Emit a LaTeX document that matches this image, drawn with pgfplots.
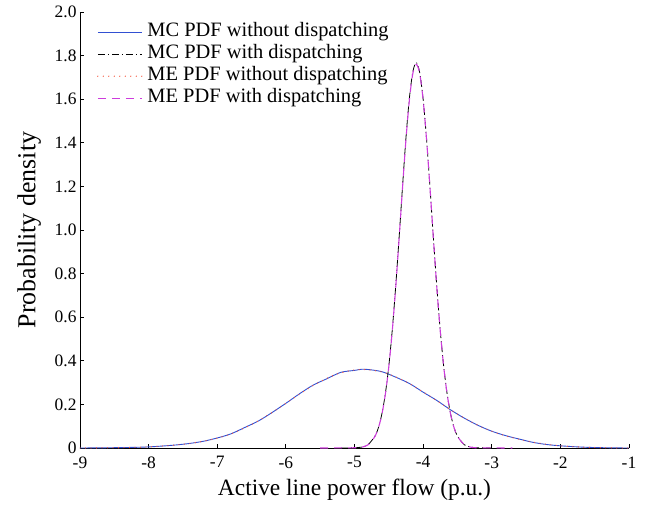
\documentclass[border=0pt]{standalone}
\usepackage{pgfplots}
\pgfplotsset{compat=1.18}
\usepackage{fontspec}
\setmainfont{Liberation Serif}
\definecolor{mcblue}{RGB}{50,80,210}
\definecolor{mered}{RGB}{245,85,60}
\definecolor{memag}{RGB}{205,60,220}
\begin{document}
\begin{tikzpicture}
\useasboundingbox (-80bp,-57bp) rectangle (568bp,448bp);
\begin{axis}[
  scale only axis, width=549bp, height=436bp,
  xmin=-9, xmax=-1, ymin=0, ymax=2,
  axis x line*=bottom, axis y line*=left,
  axis line style={black, line width=0.8bp},
  tick align=inside, major tick length=4bp,
  tick style={black, line width=0.8bp},
  xtick={-9,-8,-7,-6,-5,-4,-3,-2,-1},
  xticklabels={-9,-8,-7,-6,-5,-4,-3,-2,-1},
  ytick={0,0.2,0.4,0.6,0.8,1.0,1.2,1.4,1.6,1.8,2.0},
  yticklabels={0,0.2,0.4,0.6,0.8,1.0,1.2,1.4,1.6,1.8,2.0},
  tick label style={font=\fontsize{17.5}{17.5}\selectfont},
  xticklabel style={yshift=-5bp},
  xlabel style={font=\fontsize{23.5}{23.5}\selectfont, yshift=-4bp},
  ylabel style={font=\fontsize{26}{26}\selectfont, yshift=7bp},
  xlabel={Active line power flow (p.u.)},
  ylabel={Probability density},
  legend cell align=left,
  legend style={draw=none, fill=none, font=\fontsize{20.5}{22}\selectfont,
    at={(axis description cs:0,1)}, anchor=north west, xshift=14bp, yshift=-7bp,
    nodes={inner xsep=2bp, inner ysep=1bp, text height=14.5bp, text depth=5.5bp},
    /tikz/every odd column/.append style={column sep=3bp}},
  legend image code/.code={\draw[#1] (0bp,0bp) -- (44bp,0bp);},
]
\addplot[mcblue, line width=0.9bp, smooth] table {
-9.0 0.000
-8.6 0.001
-8.2 0.003
-8.0 0.005
-7.8 0.009
-7.6 0.014
-7.4 0.021
-7.2 0.031
-7.0 0.046
-6.8 0.065
-6.6 0.094
-6.4 0.124
-6.2 0.163
-6.0 0.205
-5.8 0.249
-5.6 0.289
-5.4 0.318
-5.2 0.347
-5.0 0.356
-4.9 0.361
-4.8 0.360
-4.6 0.350
-4.4 0.325
-4.2 0.296
-4.0 0.256
-3.8 0.218
-3.6 0.175
-3.4 0.137
-3.2 0.104
-3.0 0.077
-2.8 0.057
-2.6 0.041
-2.4 0.026
-2.2 0.016
-2.0 0.010
-1.8 0.006
-1.6 0.003
-1.4 0.0015
-1.2 0.0005
-1.0 0.000
};
\addlegendentry{MC PDF without dispatching}
\addplot[black, line width=0.8bp, smooth, dash pattern=on 7bp off 3bp on 1bp off 3bp] table {
-5.2 0.000
-5.0 0.001
-4.9 0.004
-4.8 0.016
-4.7 0.056
-4.65 0.095
-4.6 0.158
-4.55 0.250
-4.5 0.376
-4.45 0.540
-4.4 0.740
-4.35 0.965
-4.3 1.200
-4.25 1.423
-4.2 1.605
-4.15 1.725
-4.1 1.768
-4.05 1.722
-4.0 1.600
-3.95 1.418
-3.9 1.196
-3.85 0.962
-3.8 0.738
-3.75 0.538
-3.7 0.374
-3.65 0.248
-3.6 0.157
-3.55 0.094
-3.5 0.055
-3.4 0.015
-3.3 0.004
-3.2 0.001
-3.0 0.000
};
\addlegendentry{MC PDF with dispatching}
\addplot[mered, line width=1.3bp, line cap=round, smooth, dash pattern=on 0bp off 5.5bp] table {
-9.0 0.000
-8.6 0.001
-8.2 0.003
-8.0 0.005
-7.8 0.009
-7.6 0.014
-7.4 0.021
-7.2 0.031
-7.0 0.045
-6.8 0.065
-6.6 0.092
-6.4 0.125
-6.2 0.163
-6.0 0.205
-5.8 0.247
-5.6 0.287
-5.4 0.320
-5.2 0.345
-5.0 0.358
-4.9 0.360
-4.8 0.359
-4.6 0.349
-4.4 0.326
-4.2 0.295
-4.0 0.257
-3.8 0.217
-3.6 0.176
-3.4 0.137
-3.2 0.104
-3.0 0.077
-2.8 0.056
-2.6 0.040
-2.4 0.027
-2.2 0.017
-2.0 0.010
-1.8 0.006
-1.6 0.003
-1.4 0.0015
-1.2 0.0005
-1.0 0.000
};
\addlegendentry{ME PDF without dispatching}
\addplot[memag, line width=1.1bp, smooth, dash pattern=on 8bp off 6bp] table {
-5.5 0.000
-5.0 0.001
-4.9 0.0035
-4.8 0.015
-4.7 0.054
-4.65 0.094
-4.6 0.156
-4.55 0.247
-4.5 0.373
-4.45 0.536
-4.4 0.735
-4.35 0.960
-4.3 1.194
-4.25 1.415
-4.2 1.597
-4.15 1.718
-4.1 1.760
-4.05 1.718
-4.0 1.597
-3.95 1.415
-3.9 1.194
-3.85 0.960
-3.8 0.735
-3.75 0.536
-3.7 0.373
-3.65 0.247
-3.6 0.156
-3.55 0.094
-3.5 0.054
-3.4 0.015
-3.3 0.0035
-3.2 0.001
-2.7 0.000
};
\addlegendentry{ME PDF with dispatching}
\end{axis}
\end{tikzpicture}
\end{document}
